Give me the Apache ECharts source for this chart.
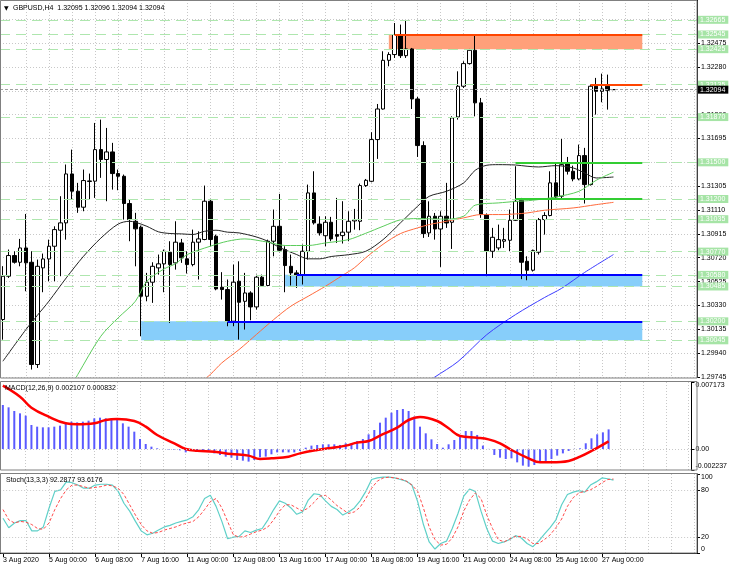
<!DOCTYPE html>
<html>
<head>
<meta charset="utf-8">
<script src="https://cdn.jsdelivr.net/npm/echarts@6/dist/echarts.min.js"></script>
<style>
html, body { margin: 0; padding: 0; background: #fff; }
#main { width: 730px; height: 569px; }
</style>
</head>
<body>
<div id="main"></div>
<script>
var myChart = echarts.init(document.getElementById('main'));

// x axis tick labels, one every 8 bars (H4)
var tickLabels = ['3 Aug 2020', '5 Aug 00:00', '6 Aug 08:00', '7 Aug 16:00', '11 Aug 00:00', '12 Aug 08:00',
    '13 Aug 16:00', '17 Aug 00:00', '18 Aug 08:00', '19 Aug 16:00', '21 Aug 00:00', '24 Aug 08:00',
    '25 Aug 16:00', '27 Aug 00:00'];

// horizontal levels (green dashed with price tags)
var levels = [1.32665, 1.32545, 1.32425, 1.32135, 1.31870, 1.31500, 1.31200, 1.31035,
    1.30770, 1.30580, 1.30485, 1.30200, 1.30045];
var lastPrice = 1.32094;

// drawn objects: [fromBar, toBar, price] / [fromBar, toBar, low, high]
var redLines = [[68, 111, 1.32545], [102, 111, 1.32135]];
var greenLines = [[89, 111, 1.31500], [89, 111, 1.31200]];
var blueLines = [[51, 111, 1.30580], [39, 111, 1.30200]];
var redZones = [[67, 111, 1.32425, 1.32545]];
var blueZones = [[49, 111, 1.30485, 1.30580], [24, 111, 1.30045, 1.30200]];

// GBPUSD H4: open, high, low, close
var ohlc = [
    [1.30215, 1.30651, 1.30050, 1.30569], [1.30569, 1.30787, 1.30555, 1.30738], [1.30738, 1.30773, 1.30672, 1.30683],
    [1.30683, 1.30874, 1.30650, 1.30800], [1.30800, 1.31078, 1.30446, 1.30678], [1.30683, 1.30773, 1.29806, 1.29847],
    [1.29847, 1.30705, 1.29819, 1.30650], [1.30637, 1.30754, 1.30438, 1.30710], [1.30710, 1.30868, 1.30528, 1.30814],
    [1.30814, 1.30977, 1.30528, 1.30950], [1.30945, 1.31223, 1.30569, 1.31005], [1.31005, 1.31482, 1.30868, 1.31405],
    [1.31405, 1.31604, 1.31195, 1.31264], [1.31264, 1.31332, 1.31087, 1.31133], [1.31133, 1.31441, 1.31100, 1.31351],
    [1.31343, 1.31408, 1.31195, 1.31348], [1.31346, 1.31822, 1.31209, 1.31604], [1.31604, 1.31849, 1.31373, 1.31523],
    [1.31523, 1.31781, 1.31182, 1.31585], [1.31585, 1.31659, 1.31277, 1.31408], [1.31408, 1.31441, 1.31272, 1.31386],
    [1.31386, 1.31400, 1.31032, 1.31163], [1.31163, 1.31195, 1.30855, 1.31032], [1.31018, 1.31087, 1.30650, 1.30956],
    [1.30970, 1.30983, 1.30078, 1.30405], [1.30405, 1.30596, 1.30364, 1.30520], [1.30520, 1.30683, 1.30351, 1.30650],
    [1.30637, 1.30746, 1.30582, 1.30670], [1.30670, 1.30787, 1.30438, 1.30773], [1.30765, 1.30855, 1.30187, 1.30664],
    [1.30678, 1.31018, 1.30623, 1.30847], [1.30841, 1.30874, 1.30678, 1.30719], [1.30711, 1.30773, 1.30591, 1.30664],
    [1.30664, 1.30950, 1.30650, 1.30847], [1.30847, 1.30936, 1.30542, 1.30874], [1.30869, 1.31310, 1.30863, 1.31182],
    [1.31182, 1.31201, 1.30814, 1.30869], [1.30896, 1.30909, 1.30454, 1.30465], [1.30479, 1.30602, 1.30378, 1.30460],
    [1.30460, 1.30542, 1.30160, 1.30201], [1.30201, 1.30664, 1.30160, 1.30520], [1.30528, 1.30691, 1.30051, 1.30356],
    [1.30364, 1.30596, 1.30133, 1.30432], [1.30432, 1.30446, 1.30209, 1.30318], [1.30318, 1.30582, 1.30296, 1.30561],
    [1.30561, 1.30582, 1.30487, 1.30493], [1.30493, 1.30868, 1.30487, 1.30855], [1.30855, 1.31114, 1.30732, 1.30977],
    [1.30977, 1.31242, 1.30765, 1.30781], [1.30787, 1.30814, 1.30438, 1.30656], [1.30650, 1.30746, 1.30493, 1.30596],
    [1.30596, 1.30618, 1.30473, 1.30577], [1.30582, 1.30828, 1.30501, 1.30773], [1.30773, 1.31318, 1.30705, 1.31250],
    [1.31250, 1.31427, 1.30991, 1.31005], [1.30995, 1.31059, 1.30901, 1.30923], [1.30900, 1.31059, 1.30814, 1.31010],
    [1.31010, 1.31054, 1.30855, 1.30874], [1.30909, 1.31209, 1.30841, 1.30896], [1.30901, 1.31182, 1.30836, 1.30929],
    [1.30929, 1.31100, 1.30855, 1.31018], [1.31021, 1.31119, 1.30950, 1.31032], [1.31018, 1.31326, 1.30945, 1.31310],
    [1.31310, 1.31364, 1.31299, 1.31353], [1.31345, 1.31746, 1.31337, 1.31686], [1.31686, 1.31977, 1.31528, 1.31936],
    [1.31936, 1.32408, 1.31931, 1.32334], [1.32334, 1.32400, 1.32285, 1.32381], [1.32381, 1.32639, 1.32353, 1.32545],
    [1.32545, 1.32626, 1.32353, 1.32372], [1.32372, 1.32662, 1.32353, 1.32427], [1.32427, 1.32435, 1.31936, 1.32018],
    [1.32018, 1.32035, 1.31544, 1.31637], [1.31637, 1.31672, 1.30882, 1.30917], [1.30923, 1.31181, 1.30890, 1.31059],
    [1.31059, 1.31086, 1.30868, 1.30955], [1.30955, 1.31100, 1.30645, 1.31059], [1.31059, 1.31332, 1.30964, 1.31004],
    [1.31010, 1.31876, 1.30792, 1.31863], [1.31871, 1.32244, 1.31849, 1.32122], [1.32122, 1.32326, 1.32108, 1.32307],
    [1.32307, 1.32427, 1.32299, 1.32416], [1.32416, 1.32545, 1.31876, 1.31986], [1.31986, 1.32026, 1.31046, 1.31073],
    [1.31073, 1.31081, 1.30569, 1.30773], [1.30773, 1.30964, 1.30718, 1.30887], [1.30800, 1.30991, 1.30781, 1.30868],
    [1.30855, 1.30964, 1.30800, 1.30868], [1.30863, 1.31114, 1.30773, 1.31026], [1.31026, 1.31468, 1.31020, 1.31181],
    [1.31190, 1.31209, 1.30545, 1.30683], [1.30691, 1.30732, 1.30536, 1.30618], [1.30618, 1.30787, 1.30607, 1.30778],
    [1.30765, 1.31045, 1.30746, 1.31032], [1.31032, 1.31092, 1.30909, 1.31065], [1.31065, 1.31427, 1.31059, 1.31332],
    [1.31332, 1.31495, 1.31201, 1.31217], [1.31223, 1.31691, 1.31195, 1.31481], [1.31490, 1.31544, 1.31400, 1.31427],
    [1.31427, 1.31473, 1.31345, 1.31364], [1.31364, 1.31645, 1.31353, 1.31555], [1.31555, 1.31618, 1.31163, 1.31318],
    [1.31318, 1.32135, 1.31310, 1.32122], [1.32122, 1.32190, 1.31890, 1.32081], [1.32081, 1.32225, 1.31991, 1.32100],
    [1.32122, 1.32217, 1.31931, 1.32089], [1.32095, 1.32096, 1.32094, 1.32094]
];

// moving averages, read at some bars: [bar, price]
var maBlack = [[0, 1.29874], [4, 1.30133], [6, 1.30250], [8, 1.30365], [11, 1.30555], [14, 1.30732], [17, 1.30880],
    [20, 1.30995], [22, 1.31018], [23, 1.31010], [25, 1.30977], [27, 1.30932], [29, 1.30918], [31, 1.30915],
    [33, 1.30910], [35, 1.30936], [37, 1.30945], [39, 1.30929], [41, 1.30923], [44, 1.30890], [46, 1.30855],
    [48, 1.30805], [51, 1.30746], [53, 1.30711], [55, 1.30711], [57, 1.30730], [60, 1.30745], [63, 1.30773],
    [66, 1.30868], [69, 1.31004], [72, 1.31141], [74, 1.31222], [77, 1.31263], [80, 1.31332], [82, 1.31435],
    [84, 1.31476], [86, 1.31481], [89, 1.31478], [91, 1.31468], [93, 1.31462], [96, 1.31473], [99, 1.31454],
    [101, 1.31413], [103, 1.31372], [106, 1.31380]];
var maGreen = [[12, 1.29680], [13, 1.29765], [17, 1.30078], [20, 1.30228], [23, 1.30364], [25, 1.30528], [28, 1.30629],
    [30, 1.30672], [32, 1.30746], [36, 1.30814], [39, 1.30855], [42, 1.30874], [46, 1.30847], [49, 1.30820],
    [53, 1.30820], [56, 1.30841], [60, 1.30868], [63, 1.30920], [66, 1.30977], [69, 1.31030], [72, 1.31040],
    [77, 1.31035], [80, 1.31060], [82, 1.31150], [86, 1.31168], [89, 1.31180], [92, 1.31190], [96, 1.31217],
    [100, 1.31263], [103, 1.31353], [106, 1.31419]];
var maRed = [[34, 1.29690], [36, 1.29765], [38, 1.29860], [41, 1.29969], [44, 1.30092], [47, 1.30214], [50, 1.30324],
    [53, 1.30405], [56, 1.30487], [59, 1.30577], [61, 1.30637], [63, 1.30720], [66, 1.30830], [69, 1.30917],
    [72, 1.30964], [74, 1.30991], [77, 1.31018], [80, 1.31046], [83, 1.31073], [87, 1.31073], [89, 1.31078],
    [91, 1.31086], [94, 1.31108], [99, 1.31127], [103, 1.31154], [106, 1.31173]];
var maBlue = [[73, 1.29680], [75, 1.29745], [79, 1.29871], [84, 1.30091], [89, 1.30255], [94, 1.30394],
    [97, 1.30470], [101, 1.30600], [106, 1.30746]];

// MACD(12,26,9)
var macdHist = [0.004713, 0.004464, 0.004072, 0.003822, 0.003573, 0.002575, 0.002397, 0.002326, 0.002326, 0.002397,
    0.002504, 0.002825, 0.002932, 0.002860, 0.002932, 0.003038, 0.003288, 0.003359, 0.003288, 0.003181,
    0.003110, 0.002753, 0.002397, 0.001862, 0.001078, 0.000544, 0.000259, 0.000080, 0.000020, -0.000100,
    -0.000100, -0.000130, -0.000350, -0.000200, -0.000200, -0.000130, -0.000170, -0.000460, -0.000630, -0.000810,
    -0.000920, -0.001170, -0.001240, -0.001340, -0.001170, -0.000880, -0.000810, -0.000560, -0.000350, -0.000350,
    -0.000350, -0.000350, -0.000200, 0.000150, 0.000370, 0.000440, 0.000510, 0.000510, 0.000510, 0.000440,
    0.000620, 0.000620, 0.000864, 0.001078, 0.001577, 0.002041, 0.002825, 0.003359, 0.003894, 0.004179,
    0.004286, 0.004072, 0.003466, 0.002397, 0.001684, 0.001043, 0.000544, 0.000150, 0.000510, 0.000970,
    0.001440, 0.001930, 0.001930, 0.001510, 0.000370, 0.000020, -0.000630, -0.000920, -0.001060, -0.000990,
    -0.001420, -0.001770, -0.001880, -0.001700, -0.001420, -0.001270, -0.001060, -0.000700, -0.000460, -0.000200,
    0.000020, 0.000080, 0.000620, 0.001150, 0.001580, 0.001790, 0.002107];
var macdSignal = [[0, 0.006781], [3, 0.005604], [5, 0.004428], [8, 0.003466], [11, 0.002753], [13, 0.002646],
    [16, 0.002753], [18, 0.003110], [20, 0.003217], [23, 0.003003], [25, 0.002397], [27, 0.001506], [30, 0.000615],
    [32, 0.000009], [34, -0.000170], [37, -0.000280], [40, -0.000530], [43, -0.000700], [45, -0.001060],
    [47, -0.000990], [50, -0.000810], [52, -0.000460], [55, -0.000100], [57, 0.000080], [60, 0.000370],
    [62, 0.000690], [64, 0.000860], [66, 0.001440], [69, 0.002290], [71, 0.003110], [73, 0.003430], [76, 0.003000],
    [78, 0.002220], [80, 0.001400], [83, 0.001220], [85, 0.001040], [87, 0.000620], [89, -0.000100],
    [92, -0.000990], [94, -0.001420], [96, -0.001420], [99, -0.001270], [101, -0.000810], [103, -0.000200],
    [106, 0.000832]];

// Stochastic(13,3,3)
var stochMain = [44, 32, 38, 41, 41, 28, 28, 33, 57, 78, 80, 90, 89, 86, 82, 82, 86, 87, 87, 86,
    78, 63, 53, 40, 28, 23, 25, 29, 33, 35, 38, 40, 42, 46, 55, 69, 73, 59, 40, 18,
    20, 21, 28, 26, 29, 31, 42, 55, 66, 63, 57, 49, 52, 67, 75, 74, 66, 59, 55, 48,
    52, 57, 66, 78, 93, 95, 96, 96, 95, 93, 91, 86, 65, 36, 14, 5, 12, 15, 31, 50,
    72, 81, 78, 53, 31, 15, 12, 14, 17, 22, 19, 12, 8, 15, 24, 32, 42, 61, 74, 77,
    79, 77, 86, 90, 95, 94, 92.2877];
var stochSignal = [55, 42, 38, 40, 39, 36, 31, 30, 38, 55, 69, 80, 86, 86, 84, 82, 83, 84, 86, 85,
    82, 74, 61, 48, 36, 28, 25, 26, 29, 31, 33, 36, 38, 40, 46, 55, 65, 69, 57, 40,
    23, 20, 21, 24, 27, 29, 33, 42, 53, 61, 61, 57, 53, 57, 64, 72, 73, 67, 60, 55,
    50, 52, 58, 69, 82, 91, 95, 96, 95, 94, 91, 86, 78, 57, 33, 17, 10, 11, 19, 33,
    53, 67, 76, 69, 48, 31, 17, 14, 18, 21, 21, 18, 12, 12, 17, 23, 32, 43, 59, 70,
    76, 78, 80, 84, 89, 93, 93.6176];

var barCount = 121;
var categories = [];
for (var i = 0; i < barCount; i++) categories.push(String(i));

var font = 'Liberation Sans, Arial, sans-serif';
var dotted = { color: '#c8c8c8', type: [1, 2], width: 1 };

function isTick(i) { return i % 8 === 0 && i / 8 < tickLabels.length; }

function makeXAxis(grid, labels) {
    return {
        type: 'category', gridIndex: grid, data: categories, boundaryGap: true,
        axisLine: { show: labels, lineStyle: { color: '#000' } },
        axisTick: { show: labels, alignWithLabel: true, length: 4, interval: function (i) { return isTick(i); }, lineStyle: { color: '#000' } },
        axisLabel: {
            show: labels, interval: function (i) { return isTick(i); }, align: 'left', margin: 4,
            fontSize: 7, color: '#000', fontFamily: font,
            formatter: function (v, i) { return tickLabels[i / 8] || ''; }
        },
        splitLine: { show: true, alignWithLabel: true, interval: function (i) { return i > 0 && i % 4 === 0; }, lineStyle: dotted }
    };
}

function levelLines() {
    var out = levels.map(function (v) {
        return {
            yAxis: v,
            lineStyle: { color: '#aee6ae', type: [10, 6], width: 1 },
            label: {
                show: true, position: 'end', distance: 1, formatter: v.toFixed(5),
                color: '#fff', backgroundColor: '#a6e4a6', padding: [1, 3, 0, 2],
                fontSize: 7, fontFamily: font
            }
        };
    });
    function seg(list, color) {
        list.forEach(function (s) {
            out.push([
                { coord: [s[0], s[2]], lineStyle: { color: color, width: 2, type: 'solid' }, label: { show: false } },
                { coord: [s[1], s[2]] }
            ]);
        });
    }
    seg(redLines, '#ff4500');
    seg(greenLines, '#32cd32');
    seg(blueLines, '#0000ff');
    return out;
}

function zones() {
    var out = [];
    function add(list, color) {
        list.forEach(function (z) {
            out.push([{ coord: [z[0], z[2]], itemStyle: { color: color, opacity: 1 } }, { coord: [z[1], z[3]] }]);
        });
    }
    add(redZones, '#ffa07a');
    add(blueZones, '#87cefa');
    return out;
}

function maSeries(data, color) {
    return {
        type: 'line', xAxisIndex: 0, yAxisIndex: 0, data: data, showSymbol: false, smooth: 0.3,
        silent: true, z: 4, lineStyle: { color: color, width: 1 }
    };
}

option = {
    animation: false,
    backgroundColor: '#fff',
    grid: [
        { left: -1, width: 698, top: 0, height: 377 },
        { left: -1, width: 698, top: 382, height: 88 },
        { left: -1, width: 698, top: 474, height: 79 }
    ],
    xAxis: [makeXAxis(0, false), makeXAxis(1, false), makeXAxis(2, true)],
    yAxis: [
        {
            type: 'value', gridIndex: 0, position: 'right', min: 1.29745, max: 1.32827, interval: 0.00195,
            axisLine: { show: true, lineStyle: { color: '#000' } },
            axisTick: { show: true, length: 3, lineStyle: { color: '#000' } },
            axisLabel: {
                color: '#000', fontSize: 7, fontFamily: font, margin: 4, showMaxLabel: false,
                formatter: function (v) { return v.toFixed(5); }
            },
            splitLine: { show: true, lineStyle: dotted }
        },
        {
            type: 'value', gridIndex: 1, position: 'right', min: -0.002237, max: 0.007173,
            axisLine: { show: true, lineStyle: { color: '#000' } },
            axisTick: { show: true, length: 3, customValues: [-0.002237, 0, 0.007173], lineStyle: { color: '#000' } },
            axisLabel: {
                color: '#000', fontSize: 7, fontFamily: font, margin: 4,
                customValues: [-0.002237, 0, 0.007173],
                verticalAlignMinLabel: 'bottom', verticalAlignMaxLabel: 'top',
                formatter: function (v) { return v === 0 ? '0.00' : v.toFixed(6); }
            },
            splitLine: { show: false }
        },
        {
            type: 'value', gridIndex: 2, position: 'right', min: 0, max: 100,
            axisLine: { show: true, lineStyle: { color: '#000' } },
            axisTick: { show: true, length: 3, customValues: [0, 20, 80, 100], lineStyle: { color: '#000' } },
            axisLabel: {
                color: '#000', fontSize: 7, fontFamily: font, margin: 4,
                customValues: [0, 20, 80, 100],
                verticalAlignMinLabel: 'bottom', verticalAlignMaxLabel: 'top'
            },
            splitLine: { show: false }
        }
    ],
    graphic: [
        { type: 'rect', silent: true, z: 100, shape: { x: 0.5, y: 0.5, width: 696.5, height: 377.5 }, style: { fill: null, stroke: '#808080', lineWidth: 1 } },
        { type: 'rect', silent: true, z: 100, shape: { x: 0.5, y: 381.5, width: 696.5, height: 88.5 }, style: { fill: null, stroke: '#808080', lineWidth: 1 } },
        { type: 'rect', silent: true, z: 100, shape: { x: 0.5, y: 473.5, width: 696.5, height: 79.5 }, style: { fill: null, stroke: '#808080', lineWidth: 1 } },
        { type: 'text', silent: true, z: 100, x: 4, y: 8, style: { text: '\u25BC', fill: '#000', font: '6px DejaVu Sans', verticalAlign: 'middle' } },
        { type: 'text', silent: true, z: 100, x: 13, y: 8, style: { text: 'GBPUSD,H4  1.32095 1.32096 1.32094 1.32094', fill: '#000', font: '7px Liberation Sans', verticalAlign: 'middle' } },
        { type: 'text', silent: true, z: 100, x: 5, y: 388, style: { text: 'MACD(12,26,9) 0.002107 0.000832', fill: '#000', font: '7px Liberation Sans', verticalAlign: 'middle' } },
        { type: 'text', silent: true, z: 100, x: 6, y: 480, style: { text: 'Stoch(13,3,3) 92.2877 93.6176', fill: '#000', font: '7px Liberation Sans', verticalAlign: 'middle' } }
    ],
    series: [
        {
            name: 'objects', type: 'line', xAxisIndex: 0, yAxisIndex: 0, data: [], z: 1, silent: true,
            markArea: { silent: true, data: zones() },
            markLine: { silent: true, symbol: ['none', 'none'], precision: 5, data: levelLines() }
        },
        {
            name: 'GBPUSD', type: 'candlestick', xAxisIndex: 0, yAxisIndex: 0, z: 3, barWidth: 4,
            data: ohlc.map(function (r) { return [r[0], r[3], r[2], r[1]]; }),
            itemStyle: { color: '#fff', color0: '#000', borderColor: '#000', borderColor0: '#000', borderWidth: 1 }
        },
        maSeries(maBlack, '#222222'),
        maSeries(maGreen, '#5ccc5c'),
        maSeries(maRed, '#ff6a3d'),
        maSeries(maBlue, '#3c3cff'),
        {
            name: 'price', type: 'line', xAxisIndex: 0, yAxisIndex: 0, data: [], z: 6, silent: true,
            markLine: {
                silent: true, symbol: ['none', 'none'], precision: 5,
                data: [{
                    yAxis: lastPrice,
                    lineStyle: { color: '#a0a0a0', type: [3, 2], width: 1 },
                    label: {
                        show: true, position: 'end', distance: 1, formatter: lastPrice.toFixed(5),
                        color: '#fff', backgroundColor: '#000', padding: [1, 3, 0, 2], fontSize: 7, fontFamily: font
                    }
                }]
            }
        },
        {
            name: 'MACD', type: 'bar', xAxisIndex: 1, yAxisIndex: 1, data: macdHist, barWidth: 2,
            itemStyle: { color: '#5a5aff' }, silent: true,
            markLine: {
                silent: true, symbol: ['none', 'none'], label: { show: false },
                lineStyle: dotted, data: [{ yAxis: 0 }]
            }
        },
        {
            name: 'Signal', type: 'line', xAxisIndex: 1, yAxisIndex: 1, data: macdSignal, smooth: 0.4,
            showSymbol: false, silent: true, z: 4, lineStyle: { color: '#ff0000', width: 2.5 }
        },
        {
            name: 'Stoch', type: 'line', xAxisIndex: 2, yAxisIndex: 2, data: stochMain,
            showSymbol: false, silent: true, lineStyle: { color: '#5fd0c8', width: 1.2 },
            markLine: {
                silent: true, symbol: ['none', 'none'], label: { show: false },
                lineStyle: dotted, data: [{ yAxis: 20 }, { yAxis: 80 }]
            }
        },
        {
            name: 'StochSignal', type: 'line', xAxisIndex: 2, yAxisIndex: 2, data: stochSignal,
            showSymbol: false, silent: true, lineStyle: { color: '#ff4a4a', width: 1, type: [3, 2] }
        }
    ]
};

myChart.setOption(option);
</script>
</body>
</html>
